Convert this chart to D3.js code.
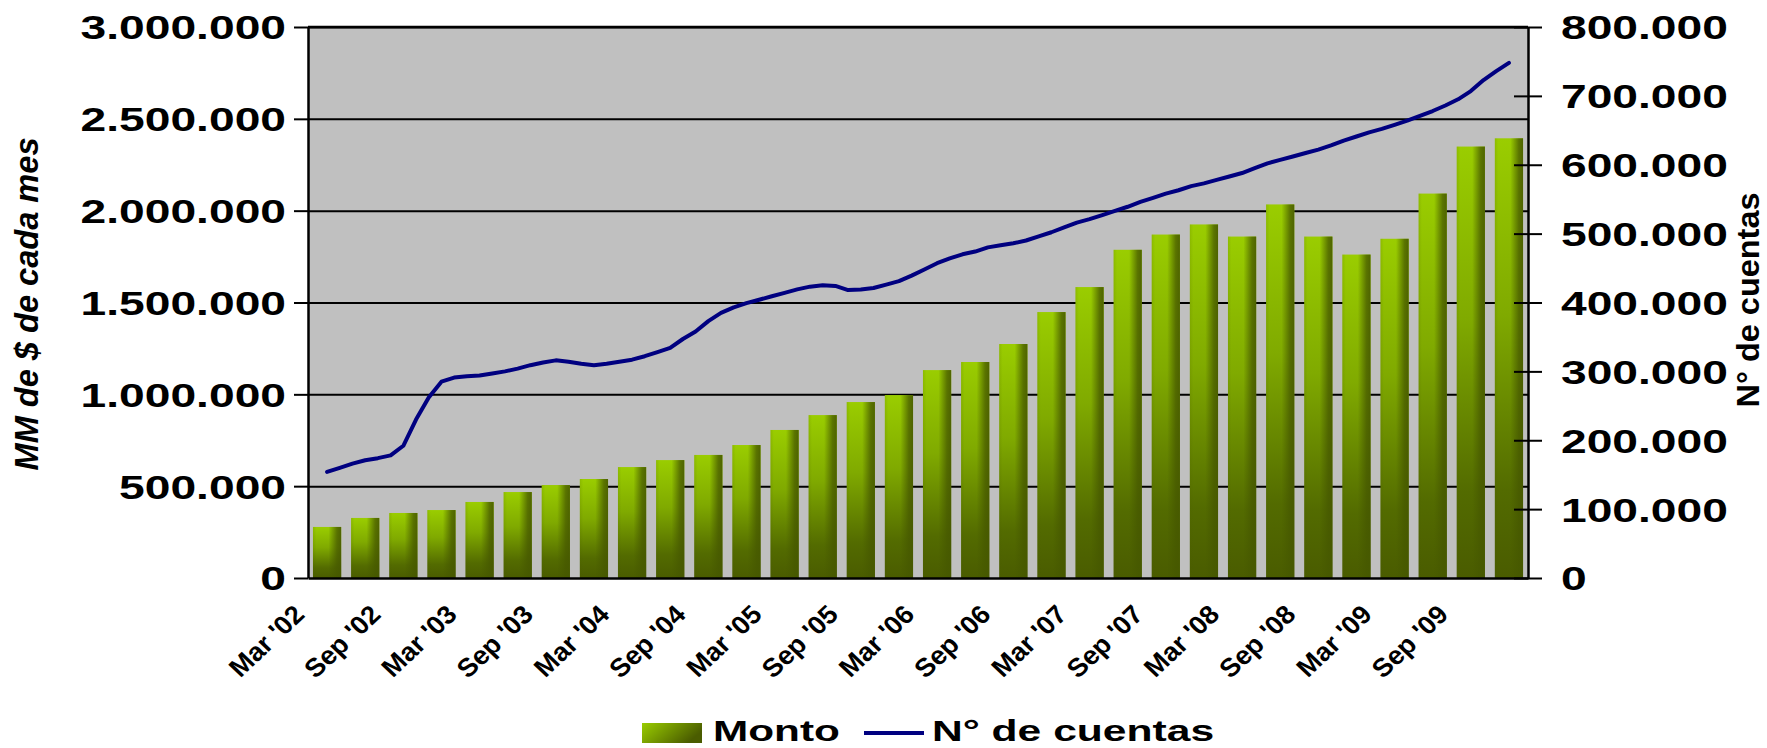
<!DOCTYPE html>
<html>
<head>
<meta charset="utf-8">
<script src="https://cdn.jsdelivr.net/npm/d3@7"></script>
<style>
  body { margin: 0; background: #fff; }
  svg { display: block; }
  text { font-family: "Liberation Sans", Arial, sans-serif; font-weight: bold; fill: #000; }
</style>
</head>
<body>
<svg id="chart" width="1767" height="748"></svg>
<script>
// quarterly categories (bars)
const quarters = [
  "Mar '02", "Jun '02", "Sep '02", "Dec '02", "Mar '03", "Jun '03", "Sep '03", "Dec '03",
  "Mar '04", "Jun '04", "Sep '04", "Dec '04", "Mar '05", "Jun '05", "Sep '05", "Dec '05",
  "Mar '06", "Jun '06", "Sep '06", "Dec '06", "Mar '07", "Jun '07", "Sep '07", "Dec '07",
  "Mar '08", "Jun '08", "Sep '08", "Dec '08", "Mar '09", "Jun '09", "Sep '09", "Dec '09"
];

// Monto (MM de $ de cada mes), one per quarter
const monto = [
  278000, 327000, 354000, 370000, 414000, 468000, 506000, 539000,
  604000, 642000, 670000, 724000, 806000, 887000, 958000, 996000,
  1132000, 1176000, 1274000, 1448000, 1584000, 1787000, 1870000, 1925000,
  1859000, 2034000, 1859000, 1761000, 1847000, 2093000, 2349000, 2394000
];

// N° de cuentas, monthly from Mar '02 to Dec '09
const cuentas = [
  154000, 160000, 166000, 171000, 174000, 178000, 192000, 230000, 262000, 285000,
  291000, 293000, 294000, 297000, 300000, 304000, 309000, 313000, 316000, 314000,
  311000, 309000, 311000, 314000, 317000, 322000, 328000, 334000, 347000, 358000,
  373000, 385000, 393000, 399000, 404000, 409000, 414000, 419000, 423000, 425000,
  424000, 418000, 419000, 421000, 426000, 431000, 439000, 448000, 457000, 464000,
  470000, 474000, 480000, 483000, 486000, 490000, 496000, 502000, 509000, 516000,
  521000, 527000, 533000, 539000, 546000, 552000, 558000, 563000, 569000, 573000,
  578000, 583000, 588000, 595000, 602000, 607000, 612000, 617000, 622000, 628000,
  635000, 641000, 647000, 652000, 658000, 664000, 671000, 678000, 686000, 695000,
  707000, 723000, 736000, 748000
];

const xLabels = [
  "Mar '02", "Sep '02", "Mar '03", "Sep '03", "Mar '04", "Sep '04", "Mar '05", "Sep '05",
  "Mar '06", "Sep '06", "Mar '07", "Sep '07", "Mar '08", "Sep '08", "Mar '09", "Sep '09"
];
const leftTicks = [0, 500000, 1000000, 1500000, 2000000, 2500000, 3000000];
const rightTicks = [0, 100000, 200000, 300000, 400000, 500000, 600000, 700000, 800000];

// plot box
const plot = {left: 308, right: 1528, top: 27, bottom: 578};
const numScale = 1.4;    // wide look of the axis numbers
const labScale = 1.05;

const svg = d3.select('#chart');
svg.append('rect').attr('width', 1767).attr('height', 748).attr('fill', '#fff');

const x = d3.scaleBand()
  .domain(quarters)
  .range([plot.left, plot.right])
  .paddingInner(0.26)
  .paddingOuter(0.13);
const yLeft = d3.scaleLinear().domain([0, 3000000]).range([plot.bottom, plot.top]);
const yRight = d3.scaleLinear().domain([0, 800000]).range([plot.bottom, plot.top]);
const half = x.bandwidth() / 2;
const xMonth = d3.scaleLinear()
  .domain([0, cuentas.length - 1])
  .range([x(quarters[0]) + half, x(quarters[quarters.length - 1]) + half]);

const fmt = d3.formatLocale({decimal: ',', thousands: '.', grouping: [3], currency: ['$', '']}).format(',d');

// gradients
const defs = svg.append('defs');
const barV = defs.append('linearGradient').attr('id', 'barV')
  .attr('x1', 0).attr('y1', 0).attr('x2', 0).attr('y2', 1);
[[0, '#9acd00'], [0.4, '#80aa00'], [0.8, '#536b00'], [1, '#4a5c00']]
  .forEach(([o, c]) => barV.append('stop').attr('offset', o).attr('stop-color', c));
const barH = defs.append('linearGradient').attr('id', 'barH')
  .attr('x1', 0).attr('y1', 0).attr('x2', 1).attr('y2', 0);
[[0, 0.15], [0.12, 0], [0.55, 0], [0.85, 0.75], [1, 0.9]]
  .forEach(([o, a]) => barH.append('stop').attr('offset', o).attr('stop-color', '#465800').attr('stop-opacity', a));
const leg = defs.append('linearGradient').attr('id', 'legGrad')
  .attr('x1', 0).attr('y1', 0).attr('x2', 1).attr('y2', 0.4);
[[0, '#99cc00'], [0.35, '#7ea600'], [1, '#4a5c00']]
  .forEach(([o, c]) => leg.append('stop').attr('offset', o).attr('stop-color', c));

// plot background
svg.append('rect')
  .attr('x', plot.left).attr('y', plot.top)
  .attr('width', plot.right - plot.left).attr('height', plot.bottom - plot.top)
  .attr('fill', '#c0c0c0');

// gridlines
svg.append('g')
  .attr('transform', `translate(${plot.left},0)`)
  .call(d3.axisLeft(yLeft).tickValues(leftTicks.slice(1)).tickSize(-(plot.right - plot.left)).tickFormat(''))
  .call(g => g.select('.domain').remove())
  .selectAll('line').attr('stroke', '#000').attr('stroke-width', 2);

// bars
const bars = svg.append('g');
bars.selectAll('rect.base')
  .data(monto)
  .join('rect')
  .attr('class', 'base')
  .attr('x', (d, i) => x(quarters[i]))
  .attr('y', d => yLeft(d))
  .attr('width', x.bandwidth())
  .attr('height', d => yLeft(0) - yLeft(d))
  .attr('fill', 'url(#barV)');
bars.selectAll('rect.shade')
  .data(monto)
  .join('rect')
  .attr('class', 'shade')
  .attr('x', (d, i) => x(quarters[i]))
  .attr('y', d => yLeft(d))
  .attr('width', x.bandwidth())
  .attr('height', d => yLeft(0) - yLeft(d))
  .attr('fill', 'url(#barH)');

// line
svg.append('path')
  .datum(cuentas)
  .attr('fill', 'none')
  .attr('stroke', '#000080')
  .attr('stroke-width', 4)
  .attr('stroke-linejoin', 'round')
  .attr('stroke-linecap', 'round')
  .attr('d', d3.line().x((d, i) => xMonth(i)).y(d => yRight(d)));

// left axis
svg.append('g')
  .attr('transform', `translate(${plot.left},0)`)
  .call(d3.axisLeft(yLeft).tickValues(leftTicks).tickSize(14).tickSizeOuter(0).tickFormat(fmt))
  .call(g => g.select('.domain').attr('stroke', '#000').attr('stroke-width', 2.5))
  .call(g => g.selectAll('.tick line').attr('stroke', '#000').attr('stroke-width', 2))
  .call(g => g.selectAll('.tick text')
    .attr('x', null).attr('dy', '0.36em')
    .attr('font-size', 33)
    .attr('transform', `translate(-22,0) scale(${numScale},1)`));

// right axis
svg.append('g')
  .attr('transform', `translate(${plot.right},0)`)
  .call(d3.axisRight(yRight).tickValues(rightTicks).tickSize(14).tickSizeOuter(0).tickFormat(fmt))
  .call(g => g.select('.domain').attr('stroke', '#000').attr('stroke-width', 2.5))
  .call(g => g.selectAll('.tick line').attr('x1', -14).attr('stroke', '#000').attr('stroke-width', 2))
  .call(g => g.selectAll('.tick text')
    .attr('x', null).attr('dy', '0.36em')
    .attr('font-size', 33)
    .attr('transform', `translate(33,0) scale(${numScale},1)`));

// bottom axis
svg.append('g')
  .attr('transform', `translate(0,${plot.bottom})`)
  .call(d3.axisBottom(x).tickValues(xLabels).tickSize(0).tickSizeOuter(0))
  .call(g => g.select('.domain').attr('stroke', '#000').attr('stroke-width', 2.5))
  .call(g => g.selectAll('.tick text')
    .attr('y', null).attr('dy', null)
    .attr('font-size', 26)
    .attr('text-anchor', 'end')
    .attr('transform', `translate(-21,38) scale(${labScale},1) rotate(-45)`));

// top border
svg.append('line')
  .attr('x1', plot.left).attr('x2', plot.right)
  .attr('y1', plot.top).attr('y2', plot.top)
  .attr('stroke', '#000').attr('stroke-width', 2.5);

// axis titles
svg.append('text')
  .attr('transform', 'translate(38,304) rotate(-90)')
  .attr('text-anchor', 'middle')
  .attr('font-size', 33)
  .attr('font-style', 'italic')
  .attr('textLength', 333)
  .attr('lengthAdjust', 'spacingAndGlyphs')
  .text('MM de $ de cada mes');

svg.append('text')
  .attr('transform', 'translate(1759,300) rotate(-90)')
  .attr('text-anchor', 'middle')
  .attr('font-size', 31)
  .attr('textLength', 215)
  .attr('lengthAdjust', 'spacingAndGlyphs')
  .text('N° de cuentas');

// legend
const legend = svg.append('g');
legend.append('rect')
  .attr('x', 642).attr('y', 723).attr('width', 60).attr('height', 20)
  .attr('fill', 'url(#legGrad)');
legend.append('text')
  .attr('transform', 'translate(713,741) scale(1.41,1)')
  .attr('font-size', 30)
  .text('Monto');
legend.append('line')
  .attr('x1', 864).attr('x2', 924).attr('y1', 733).attr('y2', 733)
  .attr('stroke', '#000080').attr('stroke-width', 4);
legend.append('text')
  .attr('transform', 'translate(932,741) scale(1.42,1)')
  .attr('font-size', 30)
  .text('N° de cuentas');
</script>
</body>
</html>
